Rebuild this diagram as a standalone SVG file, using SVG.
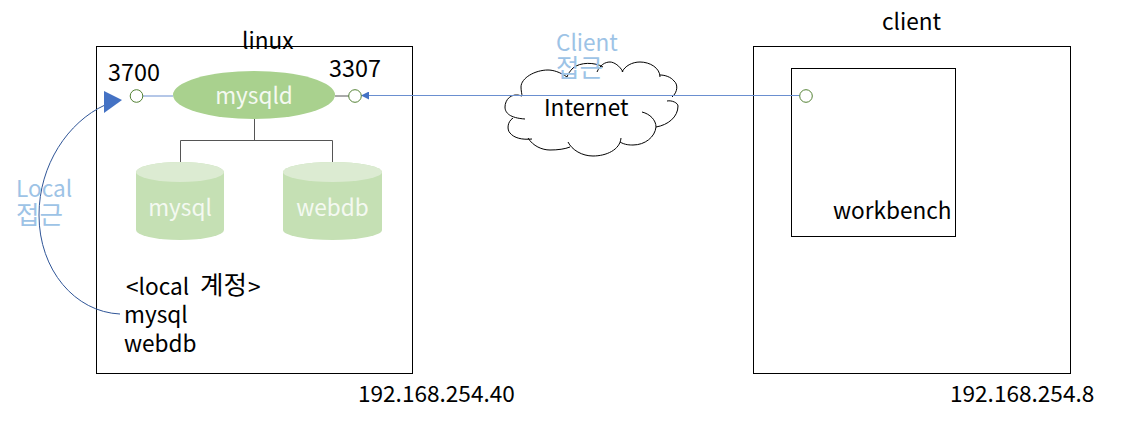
<svg xmlns="http://www.w3.org/2000/svg" width="1123" height="422" viewBox="0 0 1123 422">
<style>
text{font-family:"Noto Sans CJK KR","Noto Sans",sans-serif;font-size:22.6px;fill:#000}
.ko{font-size:25.500px}
.num{font-size:23.400px}
.box{fill:#fff;stroke:#000;stroke-width:1}
.blue{fill:#9DC3E6}
.w{fill:#F4F9F1;text-anchor:middle}
.port{fill:#fff;stroke:#548235;stroke-width:1}
.cyl{fill:#C5E0B4}
.top{fill:#DCEBD2}
.cloud{fill:none;stroke:#000;stroke-width:1}
.tree{fill:none;stroke:#555;stroke-width:1}
.link{fill:none;stroke:#6A8FD0;stroke-width:1}
</style>
<defs>
<marker id="ah" markerUnits="userSpaceOnUse" markerWidth="9" markerHeight="8" refX="8" refY="4" orient="auto"><path d="M0,0L8,4L0,8Z" fill="#4472C4"/></marker>
</defs>
<g id="linux"><rect class="box" x="96.5" y="46.5" width="316" height="327"/><text x="242" y="49">linux</text></g>
<g id="client"><rect class="box" x="753.5" y="46.5" width="317" height="327"/><text x="882" y="30">client</text></g>
<g id="workbench"><rect class="box" x="791.5" y="68.5" width="164" height="168"/><text x="833" y="219">workbench</text></g>
<g id="internet">
<path class="cloud" d="M522,96C511,92 505,100 505,107C505,113 510,118 525,119M513,118C507,122 507,130 510,133C514,138 522,140 532,139M528,138C533,146 542,150 550,150C558,150 565,149 570,147M568,142C572,150 582,156 593,156C606,156 620,150 621,138M620,142C625,145 630,145 633,145C645,145 655,137 656,127C656,120 650,114 642,112M656,127C668,125 678,117 678,106C678,103 672,100 667,101M672,97C678,92 678,84 674,81C671,77 665,75 660,75M660,77C660,68 650,62 640,62C632,62 625,66 622,72M623,72C620,66 614,62 610,62C605,62 600,65 597,72M603,67C595,62 580,62 573,68C570,71 568,74 567,77M567,77C560,72 553,70 548,70C535,70 521,78 521,87C521,91 522,94 522,96"/>
<text x="544" y="116">Internet</text>
</g>
<g id="connectors">
<path class="link" d="M142,96H173"/>
<path class="tree" d="M335,96H349"/>
<path class="tree" d="M254.500,119V140M180.500,162V140.500H332.500V162"/>
<path class="link" d="M800,95.500H361" marker-end="url(#ah)"/>
<path d="M120,314C75,312 39,270 39,215C39,165 68,122 105,105" fill="none" stroke="#2F5597" stroke-width="1"/>
</g>
<g id="arrow-3700"><path d="M104,91L122,100L104,113Z" fill="#4472C4"/></g>
<g id="mysqld"><ellipse cx="254" cy="95" rx="81" ry="24" fill="#A9D18E"/><text class="w" x="254" y="104">mysqld</text></g>
<g id="port-3700"><circle class="port" cx="136.500" cy="96" r="6.300"/><text class="num" x="108" y="81">3700</text></g>
<g id="port-3307"><circle class="port" cx="355" cy="96" r="6.300"/><text class="num" x="329" y="77">3307</text></g>
<g id="port-client"><circle class="port" cx="806" cy="96" r="6.300"/></g>
<g id="db-mysql"><path class="cyl" d="M136,172A44,10 0 0 1 224,172V230A44,10 0 0 1 136,230Z"/><ellipse class="top" cx="180" cy="172" rx="44" ry="10"/><text class="w" x="180" y="216">mysql</text></g>
<g id="db-webdb"><path class="cyl" d="M283,172A49.500,10 0 0 1 382,172V230A49.500,10 0 0 1 283,230Z"/><ellipse class="top" cx="332.500" cy="172" rx="49.500" ry="10"/><text class="w" x="332.500" y="216">webdb</text></g>
<g id="local-accounts">
<text x="126" y="295">&lt;local<tspan class="ko" x="200" y="294">계정</tspan><tspan x="248" y="295">&gt;</tspan></text>
<text x="124" y="323">mysql</text>
<text x="124" y="352">webdb</text>
</g>
<g id="label-ip1"><text x="358" y="402">192.168.254.40</text></g>
<g id="label-ip2"><text x="950" y="402">192.168.254.8</text></g>
<g id="label-client"><text class="blue" x="556" y="51">Client<tspan class="ko" x="556" y="77">접근</tspan></text></g>
<g id="label-local"><text class="blue" x="16" y="197">Local<tspan class="ko" x="16" y="224">접근</tspan></text></g>
</svg>
